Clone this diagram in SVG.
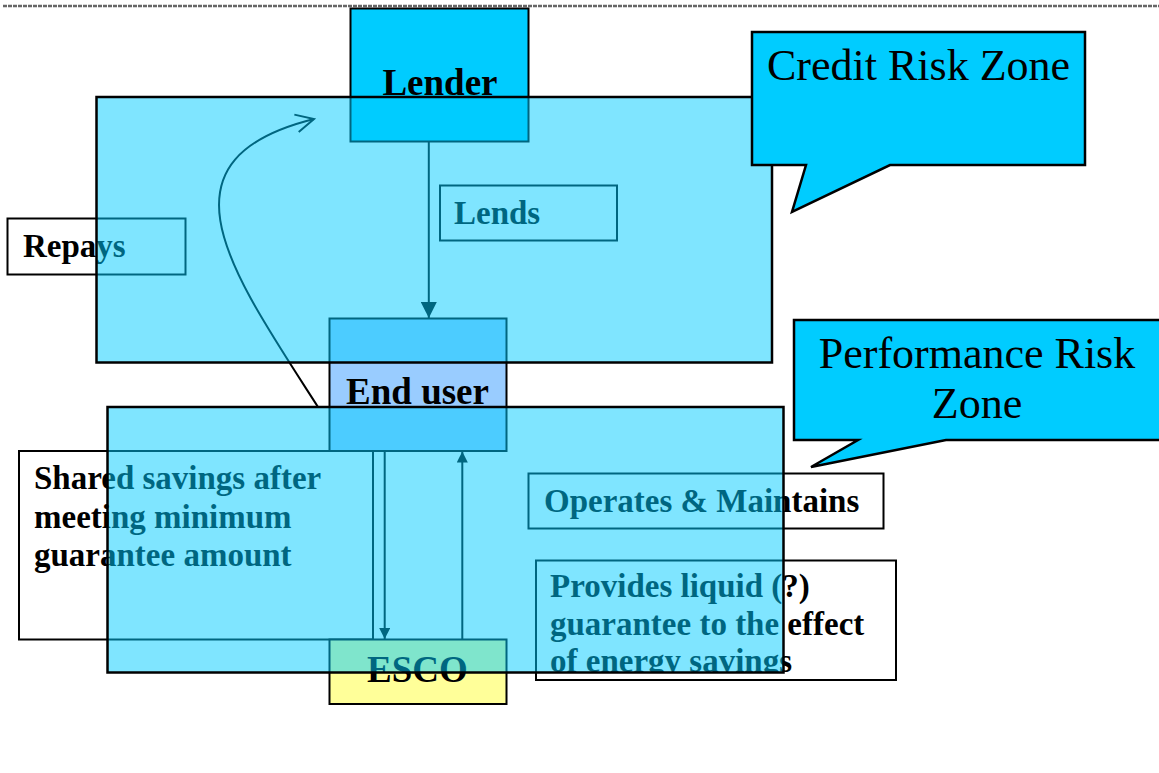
<svg xmlns="http://www.w3.org/2000/svg" width="1159" height="773" viewBox="0 0 1159 773">
<style>
.box{stroke:#000;stroke-width:2}
.lbl{font-family:"Liberation Serif","Times New Roman",serif;font-weight:bold;fill:#000}
.big{font-size:37px}
.small{font-size:33px}
.zone{fill:#00ccff;fill-opacity:0.5;stroke:#000;stroke-width:2.5}
.callout{fill:#00ccff;stroke:#000;stroke-width:2.5;stroke-linejoin:miter}
.ctext{font-family:"Liberation Serif","Times New Roman",serif;font-size:44px;fill:#000}
.conn{fill:none;stroke:#000;stroke-width:2}
</style>
<defs>
<marker id="bigArrow" markerUnits="userSpaceOnUse" markerWidth="16" markerHeight="16" refX="16" refY="8" orient="auto">
<path d="M0,0 L16,8 L0,16 Z" fill="#000"/>
</marker>
<marker id="smallArrow" markerUnits="userSpaceOnUse" markerWidth="11" markerHeight="11" refX="11" refY="5.5" orient="auto">
<path d="M0,0 L11,5.5 L0,11 Z" fill="#000"/>
</marker>
<marker id="openArrow" markerUnits="userSpaceOnUse" markerWidth="22" markerHeight="22" refX="20" refY="11" orient="auto">
<path d="M2,2 L20,11 L2,20" fill="none" stroke="#000" stroke-width="2"/>
</marker>
<clipPath id="provClip"><rect x="530" y="555" width="380" height="118"/></clipPath>
</defs>
<rect width="1159" height="773" fill="#fff"/>
<line x1="3" y1="6" x2="1159" y2="6" stroke="#666" stroke-width="2.5" stroke-dasharray="4 1"/>

<g id="repays">
<rect class="box" x="7.5" y="218.5" width="178" height="56" fill="#fff"/>
<text class="lbl small" x="23" y="257">Repays</text>
</g>
<g id="lender">
<rect class="box" x="350.5" y="8.5" width="178" height="133" fill="#00ccff"/>
<text class="lbl big" x="440" y="95" text-anchor="middle">Lender</text>
</g>
<g id="lends">
<rect class="box" x="440" y="185.5" width="177" height="55" fill="#fff"/>
<text class="lbl small" x="454" y="224">Lends</text>
</g>
<g id="shared">
<rect class="box" x="19" y="451" width="354" height="188.5" fill="#fff"/>
<text class="lbl small" x="34" y="489">Shared savings after</text>
<text class="lbl small" x="34" y="527.5">meeting minimum</text>
<text class="lbl small" x="34" y="566">guarantee amount</text>
</g>
<g id="enduser">
<rect class="box" x="329.5" y="318.5" width="177" height="132.5" fill="#99ccff"/>
<text class="lbl big" x="417.5" y="404" text-anchor="middle">End user</text>
</g>
<g id="esco">
<rect class="box" x="329.5" y="639.5" width="177" height="64.5" fill="#ffff99"/>
<text class="lbl big" x="417.5" y="682" text-anchor="middle">ESCO</text>
</g>
<g id="operates">
<rect class="box" x="528.5" y="473.5" width="355" height="55" fill="#fff"/>
<text class="lbl small" x="544" y="512">Operates &amp; Maintains</text>
</g>
<g id="provides">
<rect class="box" x="536" y="560.5" width="360" height="119.5" fill="#fff"/>
<g clip-path="url(#provClip)">
<text class="lbl small" x="550" y="597">Provides liquid (?)</text>
<text class="lbl small" x="550" y="635">guarantee to the effect</text>
<text class="lbl small" x="550" y="672">of energy savings</text>
</g>
</g>

<g id="connectors">
<line class="conn" x1="428.8" y1="142" x2="428.8" y2="318" marker-end="url(#bigArrow)"/>
<path class="conn" d="M318,407 C230,270 150,160 314,119" stroke-width="1.8" marker-end="url(#openArrow)"/>
<line class="conn" x1="384.7" y1="451" x2="384.7" y2="639" marker-end="url(#smallArrow)"/>
<line class="conn" x1="462.3" y1="639" x2="462.3" y2="451.5" marker-end="url(#smallArrow)"/>
</g>

<g id="credit-zone">
<rect class="zone" x="96.5" y="97" width="675.5" height="265.5"/>
</g>
<g id="performance-zone">
<rect class="zone" x="107.5" y="407" width="676" height="265.5"/>
</g>

<g id="credit-callout">
<path class="callout" d="M752,32 H1085 V165 H890 L792,212 L806,165 H752 Z"/>
<text class="ctext" x="767" y="80">Credit Risk Zone</text>
</g>
<g id="performance-callout">
<path class="callout" d="M794,320 H1165 V440 H946 L811,467 L858,440 H794 Z"/>
<text class="ctext" x="977" y="368" text-anchor="middle">Performance Risk</text>
<text class="ctext" x="977" y="418" text-anchor="middle">Zone</text>
</g>
</svg>
